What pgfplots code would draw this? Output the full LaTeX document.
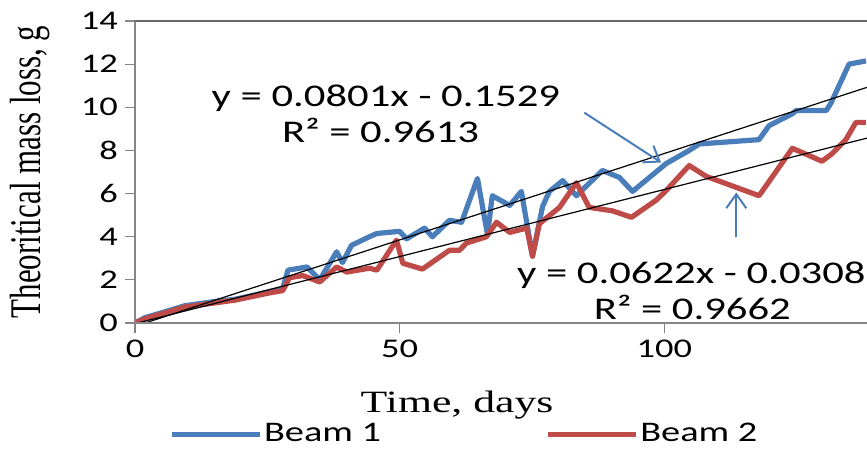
\documentclass[border=0pt]{standalone}
\usepackage{pgfplots}
\pgfplotsset{compat=1.18}
\usepackage{fontspec}
\usepackage{graphicx}
\usetikzlibrary{arrows.meta}
\setmainfont{Liberation Serif}[FakeStretch=1.41]
\newfontfamily\plainserif{Liberation Serif}
\newfontfamily\calib{Carlito}[FakeStretch=1.35]
\definecolor{bblue}{HTML}{4A7EBB}
\definecolor{bred}{HTML}{BE4B48}
\definecolor{axgray}{HTML}{868686}
\begin{document}
\begin{tikzpicture}
\begin{axis}[name=ax, scale only axis, width=366pt, height=151pt,
  xmin=0, xmax=138.3, ymin=0, ymax=14,
  xtick={0,50,100}, ytick={0,2,...,14},
  tick pos=left, tick align=outside, major tick length=5pt,
  tick style={axgray, line width=0.6pt},
  axis line style={draw=none},
  ticklabel style={font=\calib\fontsize{13.5}{16}\selectfont},
  /pgf/number format/assume math mode=true,
  xlabel={\fontsize{15.5}{18}\selectfont Time, days},
  ylabel={\plainserif\fontsize{15.5}{18}\selectfont\scalebox{1}[1.41]{Theoritical mass loss, g}},
  xlabel style={at={(axis description cs:0.44,-0.272)}, anchor=center},
  ylabel style={at={(axis description cs:-0.143,0.5)}, anchor=center},
  legend style={at={(axis description cs:0.451,-0.368)}, anchor=center, draw=none, fill=none,
    legend columns=2, font=\calib\fontsize{14.2}{16}\selectfont,
    /tikz/every even column/.append style={column sep=80pt},
    /tikz/every odd column/.append style={column sep=-1pt}},
  legend image code/.code={\draw[#1] (0pt,0pt) -- (44pt,0pt);},
]
\addplot[bblue, line width=2.6pt, line join=round] coordinates {
(0,0) (1.9,0.25) (4.7,0.45) (9.4,0.8) (15.1,1.0) (18.9,1.1) (23.6,1.35) (27.9,1.6)
(28.9,2.45) (31.1,2.54) (32.5,2.6) (34.9,2.0) (38.1,3.3) (39.2,2.8) (40.9,3.6)
(44.3,4.0) (45.7,4.15) (50,4.25) (51.3,3.9) (54.7,4.4) (56.2,4.0) (59.4,4.76)
(61.7,4.67) (64.7,6.7) (66.6,4.1) (67.5,5.9) (70.8,5.45) (73,6.1) (75.1,3.1)
(77,5.4) (78.3,6.1) (80.8,6.6) (83.4,5.9) (88.3,7.07) (91.5,6.75) (94,6.1)
(97.2,6.75) (100.4,7.4) (104.7,8.0) (106.6,8.3) (117.9,8.5) (119.8,9.15)
(124.2,9.7) (124.9,9.85) (130.6,9.85) (131.5,10.2) (134.9,12.0) (138.1,12.15)
};
\addlegendentry{Beam 1}
\addplot[bred, line width=2.6pt, line join=round] coordinates {
(0,0) (1.9,0.2) (9.4,0.74) (18.9,1.06) (25.5,1.4) (27.9,1.5) (29.2,2.1) (31.7,2.2)
(34.9,1.9) (38.1,2.6) (40,2.36) (44.3,2.54) (45.7,2.45) (49.4,3.84) (50.6,2.77)
(54.3,2.5) (59.4,3.37) (61.3,3.37) (62.6,3.7) (66.4,4.0) (68.3,4.67) (70.8,4.2)
(74,4.4) (75.1,3.1) (76.4,4.6) (80.2,5.36) (83.4,6.5) (85.8,5.36) (90.2,5.2)
(93.8,4.9) (98.5,5.7) (100.4,6.15) (104.7,7.3) (107.9,6.8) (117.9,5.9) (124.2,8.1)
(129.8,7.5) (131.7,7.85) (134.3,8.5) (136.2,9.3) (138.1,9.3)
};
\addlegendentry{Beam 2}
\addplot[black, line width=0.6pt, forget plot] coordinates {(0,-0.1529) (138.3,10.925)};
\addplot[black, line width=0.6pt, forget plot] coordinates {(0,-0.0308) (138.3,8.571)};
\draw[bblue, line width=1pt, -{Straight Barb[length=7pt, width=10pt]}] (axis cs:84.9,9.75) -- (axis cs:99.4,7.44);
\draw[bblue, line width=1pt, -{Straight Barb[length=7pt, width=10pt]}] (axis cs:113.6,3.97) -- (axis cs:113.6,6.05);
\coordinate (t1) at (axis cs:47.4,10.44);
\coordinate (t2) at (axis cs:46.4,8.92);
\coordinate (t3) at (axis cs:105.1,2.22);
\coordinate (t4) at (axis cs:105.3,0.74);
\end{axis}
\draw[axgray, line width=0.8pt] (ax.north west) -- (ax.south west) -- (ax.south east);
\draw[black!60, line width=0.6pt] (ax.north west) -- (ax.north east);
\begin{scope}[every node/.style={font=\calib\fontsize{15.8}{18}\selectfont, inner sep=0pt}]
\node at (t1) {y = 0.0801x - 0.1529};
\node at (t2) {R² = 0.9613};
\node at (t3) {y = 0.0622x - 0.0308};
\node at (t4) {R² = 0.9662};
\end{scope}
\pgfresetboundingbox
\path ([xshift=-67.5pt,yshift=-63.5pt]ax.south west) rectangle ([yshift=10.5pt]ax.north east);
\end{tikzpicture}
\end{document}
